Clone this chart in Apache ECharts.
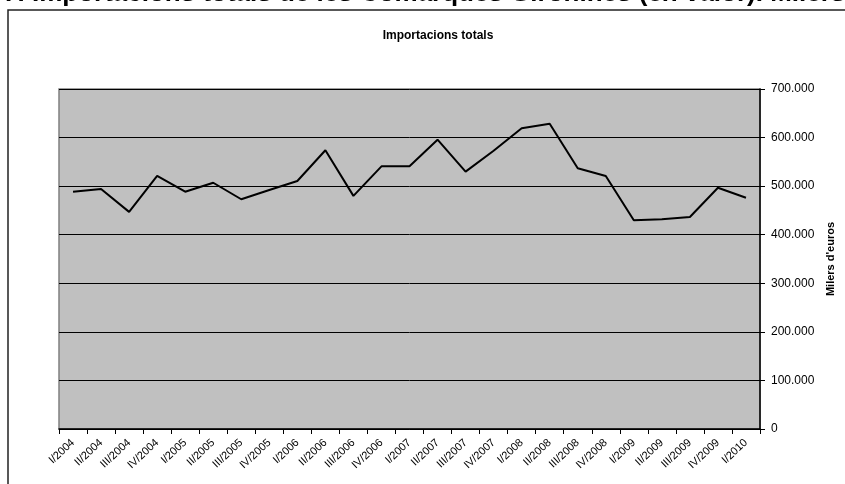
<!DOCTYPE html>
<html>
<head>
<meta charset="utf-8">
<script src="https://cdn.jsdelivr.net/npm/echarts@6/dist/echarts.min.js"></script>
<style>
html,body{margin:0;padding:0;background:#fff;}
#c{width:845px;height:484px;}
</style>
</head>
<body>
<div id="c"></div>
<script>
var categories = ['I/2004','II/2004','III/2004','IV/2004','I/2005','II/2005','III/2005','IV/2005','I/2006','II/2006','III/2006','IV/2006','I/2007','II/2007','III/2007','IV/2007','I/2008','II/2008','III/2008','IV/2008','I/2009','II/2009','III/2009','IV/2009','I/2010'];
var imports = [488600, 494000, 447000, 521000, 488600, 507000, 473000, 492000, 510600, 573800, 480000, 540800, 540800, 595700, 529800, 573000, 619000, 628600, 536700, 521000, 429600, 431700, 436500, 496800, 476000];
var yTicks = [0, 100000, 200000, 300000, 400000, 500000, 600000, 700000];

var FONT = '"Liberation Sans", Arial, sans-serif';
function fmt(v){
  return String(v).replace(/\B(?=(\d{3})+(?!\d))/g, '.');
}
var chart = echarts.init(document.getElementById('c'), null, {renderer:'canvas'});
chart.setOption({
  animation:false,
  backgroundColor:'#fff',
  textStyle:{fontFamily:FONT},
  graphic:[
    {type:'rect', shape:{x:8, y:10, width:900, height:520}, style:{fill:'none', stroke:'#222', lineWidth:1.5}, z:-10},
    {type:'text', x:3, y:7, style:{text:"7. Importacions totals de les Comarques Gironines (en valor). Milers d'euros", font:'bold 26px "Liberation Sans", Arial, sans-serif', fill:'#000', verticalAlign:'bottom'}},
    {type:'text', x:438, y:36, style:{text:'Importacions totals', font:'bold 12px "Liberation Sans", Arial, sans-serif', fill:'#000', align:'center', verticalAlign:'middle'}},
    {type:'rect', shape:{x:59, y:89, width:701, height:340}, style:{fill:'#c0c0c0', stroke:'#808080', lineWidth:1.5}, z:-5}
  ],
  grid:{left:59, right:85, top:89, bottom:55, containLabel:false},
  xAxis:{
    type:'category',
    data:categories,
    boundaryGap:true,
    axisLine:{show:true, lineStyle:{color:'#000', width:1.5}},
    axisTick:{show:true, length:5, lineStyle:{color:'#000'}, alignWithLabel:false, interval:0},
    axisLabel:{interval:0, rotate:43, fontSize:11, color:'#000', fontFamily:FONT, margin:12}
  },
  yAxis:{
    type:'value',
    position:'right',
    min:0, max:700000, interval:100000,
    name:"Milers d'euros",
    nameLocation:'middle',
    nameRotate:90,
    nameGap:64,
    nameTextStyle:{fontSize:11, fontWeight:'bold', color:'#000', fontFamily:FONT},
    axisLine:{show:true, lineStyle:{color:'#000', width:1.5}},
    axisTick:{show:true, length:5, inside:false, lineStyle:{color:'#000'}},
    axisLabel:{fontSize:12, color:'#000', fontFamily:FONT, margin:11, formatter:function(v){return yTicks.indexOf(v)>=0?fmt(v):'';}},
    splitLine:{show:true, lineStyle:{color:'#000', width:1}}
  },
  series:[{
    type:'line',
    data:imports,
    symbol:'none',
    lineStyle:{color:'#000', width:2},
    z:5
  }]
});
</script>
</body>
</html>
